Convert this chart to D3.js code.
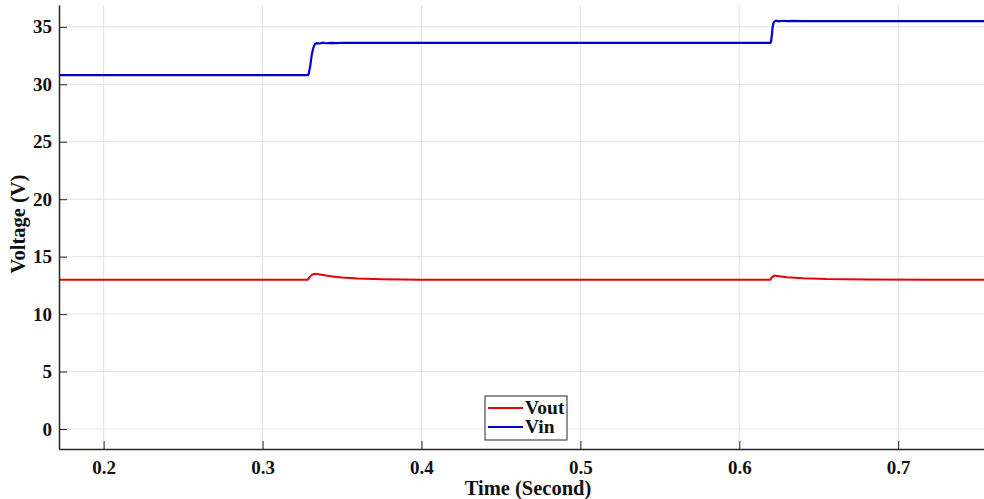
<!DOCTYPE html>
<html>
<head>
<meta charset="utf-8">
<script src="https://cdn.jsdelivr.net/npm/d3@7"></script>
<style>
  body { margin: 0; background: #fff; }
  text { font-family: "Liberation Serif", "Times New Roman", serif; font-weight: bold; fill: #111; }
</style>
</head>
<body>
<div id="chart"></div>
<script>
// Values
let xTicks = [0.2, 0.3, 0.4, 0.5, 0.6, 0.7];
let yTicks = [0, 5, 10, 15, 20, 25, 30, 35];

let vinTime = [0.172, 0.3285, 0.329, 0.330, 0.331, 0.332, 0.333, 0.334, 0.336, 0.338, 0.340, 0.343, 0.346, 0.350,
               0.360, 0.400, 0.500, 0.600, 0.6195, 0.620, 0.6205, 0.621, 0.6215, 0.622, 0.623, 0.625, 0.627, 0.630,
               0.634, 0.640, 0.660, 0.700, 0.754];
let vinVal  = [30.8, 30.8, 30.9, 31.6, 32.6, 33.2, 33.5, 33.58, 33.55, 33.62, 33.57, 33.61, 33.58, 33.6,
               33.6, 33.6, 33.6, 33.6, 33.6, 33.7, 34.3, 35.0, 35.3, 35.45, 35.53, 35.48, 35.53, 35.49,
               35.51, 35.5, 35.5, 35.5, 35.5];

let voutTime = [0.172, 0.250, 0.3285, 0.3295, 0.331, 0.333, 0.336, 0.340, 0.345, 0.350, 0.360, 0.375, 0.400,
                0.450, 0.500, 0.550, 0.6195, 0.6205, 0.622, 0.625, 0.630, 0.640, 0.655, 0.680, 0.720, 0.754];
let voutVal  = [13.0, 13.0, 13.0, 13.2, 13.42, 13.5, 13.45, 13.35, 13.26, 13.18, 13.1, 13.04, 13.0,
                13.0, 13.0, 13.0, 13.0, 13.2, 13.35, 13.3, 13.2, 13.12, 13.05, 13.01, 13.0, 13.0];

let seriesNames = ['Vout', 'Vin'];
let seriesColors = ['#e60000', '#0000cc'];

let svgWidth = 984, svgHeight = 499;
let margin = { top: 5, right: 0, bottom: 50, left: 59 };
let chartWidth = svgWidth - margin.left - margin.right;
let chartHeight = svgHeight - margin.top - margin.bottom;

let svg = d3.select('#chart').append('svg')
            .attr('width', svgWidth)
            .attr('height', svgHeight);

let chartGrp = svg.append('g')
            .attr('transform', `translate(${margin.left}, ${margin.top})`);

let xScale = d3.scaleLinear().domain([0.1719, 0.754]).range([0, chartWidth]);
let yScale = d3.scaleLinear().domain([-1.74, 36.9]).range([chartHeight, 0]);

// grid
chartGrp.append('g').selectAll('line.gx')
    .data(xTicks).enter().append('line')
    .attr('x1', d => xScale(d)).attr('x2', d => xScale(d))
    .attr('y1', 0).attr('y2', chartHeight)
    .attr('stroke', '#e3e3e3');
chartGrp.append('g').selectAll('line.gy')
    .data(yTicks).enter().append('line')
    .attr('x1', 0).attr('x2', chartWidth)
    .attr('y1', d => yScale(d)).attr('y2', d => yScale(d))
    .attr('stroke', '#e3e3e3');

// lines
let line = d3.line().x(d => xScale(d[0])).y(d => yScale(d[1]));
let vinData = vinTime.map((t, i) => [t, vinVal[i]]);
let voutData = voutTime.map((t, i) => [t, voutVal[i]]);

chartGrp.append('path').datum(voutData)
    .attr('d', line).attr('fill', 'none')
    .attr('stroke', seriesColors[0]).attr('stroke-width', 2);
chartGrp.append('path').datum(vinData)
    .attr('d', line).attr('fill', 'none')
    .attr('stroke', seriesColors[1]).attr('stroke-width', 2.2);

// axes
let xAxis = d3.axisBottom(xScale).tickValues(xTicks).tickSizeInner(-8).tickSizeOuter(0).tickPadding(12)
              .tickFormat(d3.format('.1f'));
let yAxis = d3.axisLeft(yScale).tickValues(yTicks).tickSizeInner(-8).tickSizeOuter(0).tickPadding(14);

let gx = chartGrp.append('g')
    .attr('transform', `translate(0, ${chartHeight})`)
    .call(xAxis);
let gy = chartGrp.append('g').call(yAxis);

[gx, gy].forEach(g => {
    g.select('.domain').attr('stroke', '#262626').attr('stroke-width', 1.5);
    g.selectAll('.tick line').attr('stroke', '#262626');
    g.selectAll('.tick text')
        .style('font-family', '"Liberation Serif", serif')
        .style('font-weight', 'bold')
        .style('font-size', '19px')
        .attr('fill', '#111');
});
gy.selectAll('.tick text').attr('x', -7);

// axis titles
svg.append('text')
    .attr('x', 528).attr('y', 495)
    .attr('text-anchor', 'middle')
    .attr('font-size', 20.5)
    .text('Time (Second)');

svg.append('text')
    .attr('transform', 'rotate(-90)')
    .attr('x', -224).attr('y', 25)
    .attr('text-anchor', 'middle')
    .attr('font-size', 20.5)
    .text('Voltage (V)');

// legend
let legend = svg.append('g').attr('transform', 'translate(485, 396)');
legend.append('rect')
    .attr('width', 82).attr('height', 44)
    .attr('fill', '#fff').attr('stroke', '#262626').attr('stroke-width', 1);
let items = legend.selectAll('g.item')
    .data(seriesNames).enter().append('g')
    .attr('transform', (d, i) => `translate(0, ${12 + i * 19})`);
items.append('line')
    .attr('x1', 3).attr('x2', 38)
    .attr('stroke', (d, i) => seriesColors[i]).attr('stroke-width', 2);
items.append('text')
    .attr('x', 40).attr('y', 6)
    .attr('font-size', 19.5)
    .text(d => d);
</script>
</body>
</html>
